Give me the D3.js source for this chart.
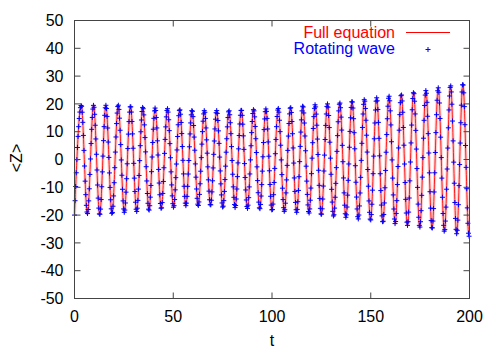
<!DOCTYPE html>
<html><head><meta charset="utf-8">
<script src="https://cdn.jsdelivr.net/npm/d3@7"></script>
<style>body{margin:0;background:#fff}text{font-family:"Liberation Sans",Arial,sans-serif;font-size:16px}</style>
</head><body>
<svg id="c" width="498" height="349"></svg>
<script>
// ---- data ----
const xTicks = [0, 50, 100, 150, 200];
const yTicks = [-50, -40, -30, -20, -10, 0, 10, 20, 30, 40, 50];
// times of the successive extrema (trough, peak, trough, ...) of <Z>
const extremaT = [0, 3.42, 6.53, 9.65, 12.77, 15.88, 19.0, 22.12, 25.23, 28.35, 31.47, 34.58, 37.70, 40.81, 43.93,
  47.05, 50.16, 53.28, 56.40, 59.51, 62.63, 65.75, 68.86, 71.98, 75.10, 78.21, 81.33, 84.45, 87.56, 90.68,
  93.80, 96.91, 100.03, 103.14, 106.26, 109.38, 112.49, 115.61, 118.73, 121.84, 124.96, 128.08, 131.19,
  134.31, 137.43, 140.54, 143.66, 146.78, 149.89, 153.01, 156.13, 159.24, 162.36, 165.48, 168.59, 171.71,
  174.82, 177.94, 181.06, 184.17, 187.29, 190.41, 193.52, 196.64, 199.76, 200];
// values of <Z> at those extrema
const extremaZ = [-20.0, 19.5, -19.5, 19.5, -19.9, 19.5, -19.5, 19.6, -19.0, 19.2, -18.7, 18.8, -18.3, 18.5, -17.7,
  18.3, -17.2, 18.0, -16.6, 17.7, -16.6, 17.6, -16.5, 17.6, -17.2, 17.6, -17.3, 17.9, -17.6, 18.0,
  -17.8, 18.2, -18.3, 18.4, -18.7, 18.8, -19.0, 19.3, -19.3, 19.7, -19.9, 20.0, -20.4,
  20.4, -20.8, 21.0, -21.4, 21.6, -21.9, 22.2, -22.6, 22.8, -23.1, 23.4, -23.7, 24.2,
  -24.4, 24.8, -24.9, 25.8, -25.9, 26.6, -26.7, 27.2, -27.6, -27.6];
const markerStep = 0.3;   // sampling interval of the "Rotating wave" points
const seriesNames = ["Full equation", "Rotating wave"];

// ---- drawing ----
const svg = d3.select("#c");
const L = 74.5, R = 469.5, T = 20.5, B = 298.5;
const x = d3.scaleLinear().domain([0, 200]).range([L, R]);
const y = d3.scaleLinear().domain([-50, 50]).range([B, T]);
const frame = "#444";
const data = extremaT.map((t, i) => [t, extremaZ[i]]);

const lineGen = d3.line().x(d => x(d[0])).y(d => y(d[1])).curve(d3.curveMonotoneX);

// Full equation curve
svg.append("path").attr("d", lineGen(data)).attr("fill", "none")
  .attr("stroke", "rgba(255,0,0,0.2)").attr("stroke-width", 3.2);
svg.append("path").attr("d", lineGen(data)).attr("fill", "none")
  .attr("stroke", "#ff0000").attr("stroke-opacity", 0.85).attr("stroke-width", 1);

// collect the curve segments the library produced, to place the sampled points on it
const segs = []; let cur = null;
const ctx = {
  moveTo(a, b) { cur = [a, b]; },
  lineTo(a, b) { segs.push({ p0: cur, c1: cur, c2: [a, b], p1: [a, b] }); cur = [a, b]; },
  bezierCurveTo(a, b, c, d, e, f) { segs.push({ p0: cur, c1: [a, b], c2: [c, d], p1: [e, f] }); cur = [e, f]; },
  closePath() {}
};
d3.line().x(d => x(d[0])).y(d => y(d[1])).curve(d3.curveMonotoneX).context(ctx)(data);
function bez(s, a, b, c, d) { const u = 1 - s; return u*u*u*a + 3*u*u*s*b + 3*u*s*s*c + s*s*s*d; }
function yAt(px) {
  let sg = segs.find(g => px <= g.p1[0]) || segs[segs.length - 1];
  let lo = 0, hi = 1;
  for (let i = 0; i < 30; i++) {
    const m = (lo + hi) / 2;
    if (bez(m, sg.p0[0], sg.c1[0], sg.c2[0], sg.p1[0]) < px) lo = m; else hi = m;
  }
  const s = (lo + hi) / 2;
  return bez(s, sg.p0[1], sg.c1[1], sg.c2[1], sg.p1[1]);
}
const sampleT = d3.range(0, 200 + 1e-9, markerStep);
const plus = "M-2.5,0H2.5M0,-2.5V2.5";
svg.append("g").selectAll("path").data(sampleT).join("path")
  .attr("transform", t => { const px = x(t); return `translate(${px},${yAt(px)})`; })
  .attr("d", plus).attr("stroke", "#0000ff").attr("stroke-width", 1).attr("fill", "none");

// frame and ticks
const ax = svg.append("g").attr("stroke", frame).attr("stroke-width", 1).attr("fill", "none");
ax.append("rect").attr("x", L).attr("y", T).attr("width", R - L).attr("height", B - T);
const tl = 6;
xTicks.forEach(v => {
  ax.append("line").attr("x1", x(v)).attr("x2", x(v)).attr("y1", B).attr("y2", B - tl);
  ax.append("line").attr("x1", x(v)).attr("x2", x(v)).attr("y1", T).attr("y2", T + tl);
});
yTicks.forEach(v => {
  ax.append("line").attr("x1", L).attr("x2", L + tl).attr("y1", y(v)).attr("y2", y(v));
  ax.append("line").attr("x1", R).attr("x2", R - tl).attr("y1", y(v)).attr("y2", y(v));
});

// tick labels
svg.append("g").selectAll("text").data(xTicks).join("text")
  .attr("x", d => x(d)).attr("y", 322).attr("text-anchor", "middle").text(d => d);
svg.append("g").selectAll("text").data(yTicks).join("text")
  .attr("x", 63.5).attr("y", d => y(d) + 5.7).attr("text-anchor", "end").text(d => d);

// axis titles
svg.append("text").attr("x", x(100)).attr("y", 346).attr("text-anchor", "middle").text("t");
svg.append("text").attr("transform", "translate(21.5,158) rotate(-90)").attr("text-anchor", "middle").text("<Z>");

// legend
svg.append("text").attr("x", 395).attr("y", 38).attr("text-anchor", "end").attr("fill", "#ff0000").text(seriesNames[0]);
svg.append("line").attr("x1", 406).attr("x2", 450).attr("y1", 32.5).attr("y2", 32.5).attr("stroke", "#ff0000").attr("stroke-width", 1);
svg.append("text").attr("x", 395).attr("y", 54).attr("text-anchor", "end").attr("fill", "#0000ff").text(seriesNames[1]);
svg.append("path").attr("transform", "translate(428,49.5)").attr("d", plus).attr("stroke", "#0000ff").attr("fill", "none");
</script>
</body></html>
